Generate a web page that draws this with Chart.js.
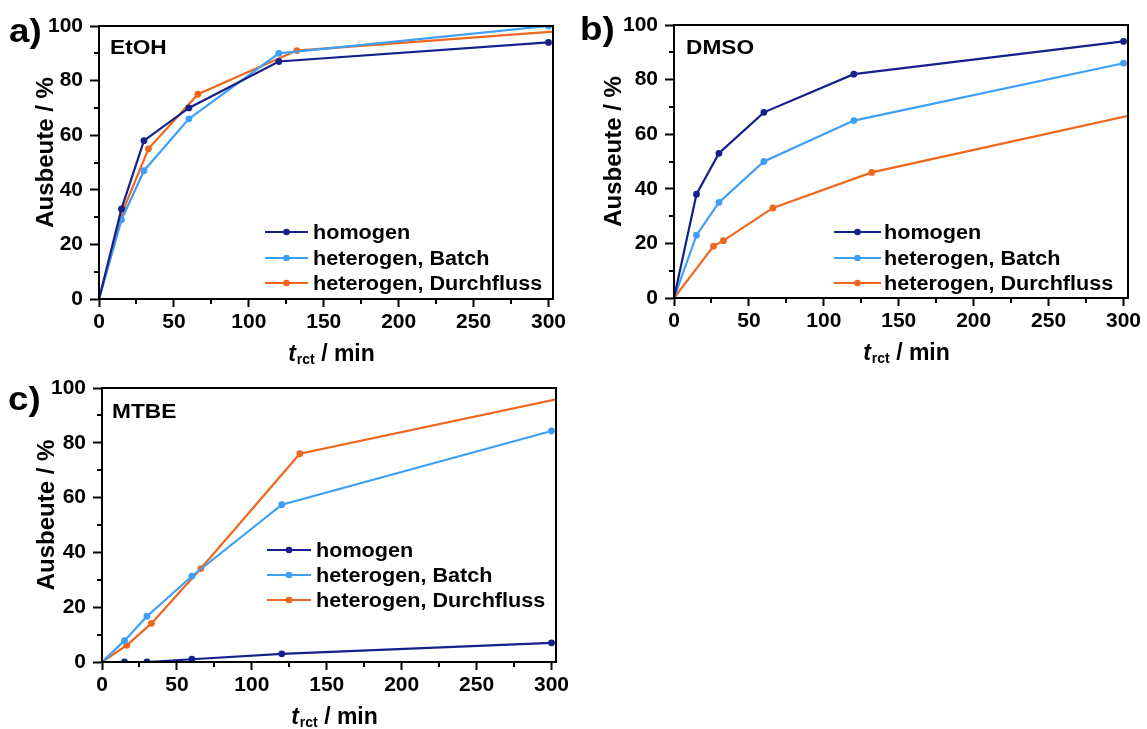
<!DOCTYPE html>
<html>
<head>
<meta charset="utf-8">
<title>Ausbeute vs. Reaktionszeit</title>
<script src="https://cdn.jsdelivr.net/npm/chart.js@4/dist/chart.umd.min.js"></script>
<style>
  html, body { margin: 0; padding: 0; background: #fff; }
  body { width: 1147px; height: 729px; position: relative; overflow: hidden; }
  canvas { position: absolute; display: block; }
</style>
</head>
<body>
<canvas id="panelA" width="575" height="370" style="left:0;top:0"></canvas>
<canvas id="panelB" width="572" height="370" style="left:575px;top:0"></canvas>
<canvas id="panelC" width="575" height="364" style="left:0;top:365px"></canvas>
<script>
// Reaction times (min) of the batch runs and residence times of the flow runs
const timeBatch     = [0, 15, 30, 60, 120, 300];
const timeFlowEtOH  = [0, 16.5, 33, 66, 132, 330];
const timeFlowDMSO  = [0, 26.4, 33, 66, 132, 330];
const timeFlowMTBE  = [0, 16.5, 33, 66, 132, 330];

// Yields (%) – EtOH
const etohHomogen = [0, 33, 58, 70, 87, 94];
const etohBatch   = [0, 29, 47, 66, 90, 100];
const etohFlow    = [0, 33, 55, 75, 91, 99];

// Yields (%) – DMSO
const dmsoHomogen = [0, 38, 53, 68, 82, 94];
const dmsoBatch   = [0, 23, 35, 50, 65, 86];
const dmsoFlow    = [0, 19, 21, 33, 46, 70];

// Yields (%) – MTBE
const mtbeHomogen = [0, 0, 0, 1, 3, 7];
const mtbeBatch   = [0, 7.8, 16.7, 31.3, 57.4, 84.3];
const mtbeFlow    = [0, 6.1, 14.1, 34.1, 76, 99];

const seriesLabels = ['homogen', 'heterogen, Batch', 'heterogen, Durchfluss'];
const seriesColors = ['#15208c', '#3f9ff4', '#ee671d'];

// Axis ticks
const xTickValues  = [0, 50, 100, 150, 200, 250, 300];
const yTickValues  = [0, 20, 40, 60, 80, 100];
const xMinorTicks  = [25, 75, 125, 175, 225, 275];
const yMinorTicks  = [10, 30, 50, 70, 90];

const FONT = '"Liberation Sans", Arial, Helvetica, sans-serif';
const font = (size, style) => `${style || 'bold'} ${size}px ${FONT}`;
const TEXT_STRETCH = 1.08;

function pairs(xs, ys) {
  return xs.map((x, i) => ({ x: x, y: ys[i] }));
}

// left-aligned text, slightly widened like the rest of the figure lettering
function wideText(ctx, text, x, y) {
  ctx.save();
  ctx.translate(x, y);
  ctx.scale(TEXT_STRETCH, 1);
  ctx.textAlign = 'left';
  ctx.fillText(text, 0, 0);
  ctx.restore();
}

// Frame, minor ticks, panel tag, solvent name, axis titles and inset legend
const decorPlugin = {
  id: 'decor',
  afterDraw(chart, args, o) {
    const ctx = chart.ctx;
    const a = chart.chartArea;
    const sx = chart.scales.x, sy = chart.scales.y;
    ctx.save();

    // minor ticks
    ctx.strokeStyle = '#000';
    ctx.lineWidth = 2;
    ctx.beginPath();
    xMinorTicks.forEach(v => {
      const px = Math.round(sx.getPixelForValue(v));
      ctx.moveTo(px, a.bottom);
      ctx.lineTo(px, a.bottom + 5);
    });
    yMinorTicks.forEach(v => {
      const py = Math.round(sy.getPixelForValue(v));
      ctx.moveTo(a.left, py);
      ctx.lineTo(a.left - 5, py);
    });
    ctx.stroke();

    // box frame
    ctx.strokeRect(a.left, a.top, a.right - a.left, a.bottom - a.top);

    ctx.fillStyle = '#000';
    ctx.textBaseline = 'alphabetic';

    // panel tag
    ctx.font = font(34);
    wideText(ctx, o.tag, o.tagX, o.tagY);

    // solvent
    ctx.font = font(21);
    wideText(ctx, o.solvent, a.left + o.solventDX, a.top + o.solventDY);

    // y title
    ctx.save();
    ctx.translate(a.left + o.yTitleDX, (a.top + a.bottom) / 2 - 10);
    ctx.rotate(-Math.PI / 2);
    ctx.font = font(24);
    ctx.textAlign = 'center';
    ctx.fillText('Ausbeute / %', 0, 0);
    ctx.restore();

    // x title: t_rct / min
    const mainF = font(23, 'italic bold');
    const subF = font(14);
    const restF = font(23);
    ctx.font = mainF; const wT = ctx.measureText('t').width;
    ctx.font = subF;  const wS = ctx.measureText('rct').width;
    ctx.font = restF; const wR = ctx.measureText(' / min').width;
    let x0 = (a.left + a.right) / 2 + 5 - (wT + wS + wR) / 2;
    const base = a.bottom + 62;
    ctx.textAlign = 'left';
    ctx.font = mainF; ctx.fillText('t', x0, base); x0 += wT + 1;
    ctx.font = subF;  ctx.fillText('rct', x0, base + 3); x0 += wS;
    ctx.font = restF; ctx.fillText(' / min', x0, base);

    // legend
    const lg = o.legend;
    chart.data.datasets.forEach((ds, i) => {
      const y = a.bottom - lg.rows[i];
      const xs = a.left + lg.dx;
      ctx.strokeStyle = ds.borderColor;
      ctx.lineWidth = 2.2;
      ctx.beginPath();
      ctx.moveTo(xs, y);
      ctx.lineTo(xs + lg.len, y);
      ctx.stroke();
      ctx.fillStyle = ds.borderColor;
      ctx.beginPath();
      ctx.arc(xs + lg.len / 2, y, 3.3, 0, Math.PI * 2);
      ctx.fill();
      ctx.fillStyle = '#000';
      ctx.font = font(20);
      ctx.textBaseline = 'middle';
      wideText(ctx, ds.label, xs + lg.len + lg.gap, y + 1);
      ctx.textBaseline = 'alphabetic';
    });

    ctx.restore();
  }
};

function makeChart(id, spec) {
  const datasets = spec.series.map((s, i) => ({
    label: seriesLabels[i],
    data: pairs(s.t, s.y),
    borderColor: seriesColors[i],
    backgroundColor: seriesColors[i],
    borderWidth: 2.2,
    tension: 0,
    pointRadius: ctx => (ctx.dataIndex === 0 ? 0 : 3.4),
    pointBorderWidth: 0,
    pointHoverRadius: 3.4,
    clip: 0
  }));
  const canvas = document.getElementById(id);
  const W = canvas.width, H = canvas.height;
  const area = spec.area;
  return new Chart(canvas, {
    type: 'line',
    data: { datasets: datasets },
    plugins: [decorPlugin],
    options: {
      responsive: false,
      animation: false,
      events: [],
      layout: { padding: { left: 0, top: area.top, right: W - area.right, bottom: 0 } },
      plugins: {
        legend: { display: false },
        tooltip: { enabled: false },
        decor: spec.decor
      },
      scales: {
        x: {
          type: 'linear',
          min: 0, max: 303,
          afterBuildTicks: s => { s.ticks = xTickValues.map(v => ({ value: v })); },
          afterFit: s => { s.height = H - area.bottom; },
          ticks: { color: '#000', font: { family: FONT, size: 21, weight: 'bold' }, padding: 3, maxRotation: 0, autoSkip: false },
          grid: { drawOnChartArea: false, drawTicks: true, tickLength: 8, tickWidth: 2, tickColor: '#000' },
          border: { display: true, width: 2, color: '#000' }
        },
        y: {
          type: 'linear',
          min: 0, max: 100,
          afterBuildTicks: s => { s.ticks = yTickValues.map(v => ({ value: v })); },
          afterFit: s => { s.width = area.left; },
          ticks: { color: '#000', font: { family: FONT, size: 21, weight: 'bold' }, padding: 7 },
          grid: { drawOnChartArea: false, drawTicks: true, tickLength: 9, tickWidth: 2, tickColor: '#000' },
          border: { display: true, width: 2, color: '#000' }
        }
      }
    }
  });
}

makeChart('panelA', {
  area: { left: 99, top: 26, right: 553, bottom: 299 },
  series: [
    { t: timeBatch, y: etohHomogen },
    { t: timeBatch, y: etohBatch },
    { t: timeFlowEtOH, y: etohFlow }
  ],
  decor: {
    tag: 'a)', tagX: 9, tagY: 42,
    solvent: 'EtOH', solventDX: 11, solventDY: 28,
    yTitleDX: -46,
    legend: { dx: 166, len: 43, gap: 5, rows: [67, 41, 16] }
  }
});

makeChart('panelB', {
  area: { left: 99, top: 25, right: 553, bottom: 298 },
  series: [
    { t: timeBatch, y: dmsoHomogen },
    { t: timeBatch, y: dmsoBatch },
    { t: timeFlowDMSO, y: dmsoFlow }
  ],
  decor: {
    tag: 'b)', tagX: 5, tagY: 40,
    solvent: 'DMSO', solventDX: 12, solventDY: 29,
    yTitleDX: -53,
    legend: { dx: 160, len: 47, gap: 3, rows: [66, 40, 15] }
  }
});

makeChart('panelC', {
  area: { left: 102, top: 23, right: 556, bottom: 297 },
  series: [
    { t: timeBatch, y: mtbeHomogen },
    { t: timeBatch, y: mtbeBatch },
    { t: timeFlowMTBE, y: mtbeFlow }
  ],
  decor: {
    tag: 'c)', tagX: 8, tagY: 45,
    solvent: 'MTBE', solventDX: 10, solventDY: 30,
    yTitleDX: -48,
    legend: { dx: 165, len: 44, gap: 5, rows: [112, 87, 62] }
  }
});
</script>
</body>
</html>
